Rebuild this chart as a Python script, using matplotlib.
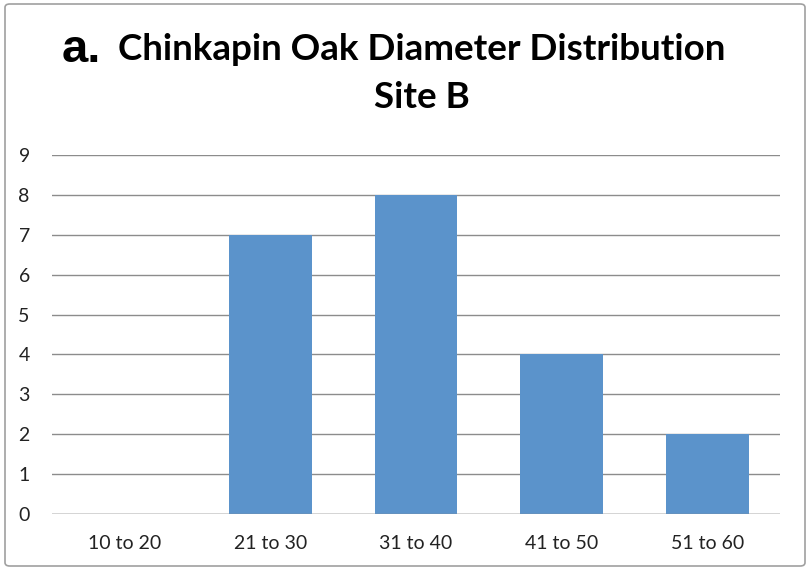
import matplotlib.pyplot as plt
from matplotlib.patches import FancyBboxPatch

categories = ["10 to 20", "21 to 30", "31 to 40", "41 to 50", "51 to 60"]
counts = [0, 7, 8, 4, 2]
yticks = list(range(0, 10))

fig = plt.figure(figsize=(8.07, 5.71), dpi=100)
W, H = 807, 571

# outer frame of the chart
fig.patches.append(FancyBboxPatch((5 / W, 5 / H), 800 / W, 562 / H,
                                  boxstyle="round,pad=0,rounding_size=0.006",
                                  transform=fig.transFigure, fill=False,
                                  edgecolor="#a0a0a0", linewidth=1.2))

ax = fig.add_axes([52 / W, (H - 514) / H, 728 / W, 359 / H])
x = range(len(categories))
ax.bar(x, counts, width=0.57, color="#5b93cb", zorder=3)
ax.set_xlim(-0.5, len(categories) - 0.5)
ax.set_ylim(0, 9)
ax.set_yticks(yticks)
ax.set_xticks(list(x))
ax.set_xticklabels(categories)
ax.grid(axis="y", color="#8c8c8c", linewidth=1.0, zorder=0)
for s in ax.spines.values():
    s.set_visible(False)
ax.axhline(0, color="#8c8c8c", linewidth=1.0, zorder=4)
ax.tick_params(length=0, labelsize=14, colors="#222222", pad=15)
ax.tick_params(axis="y", pad=16)
for lab in ax.get_xticklabels() + ax.get_yticklabels():
    lab.set_family("Lato")

fig.text(62 / W, 1 - 50 / H, "a.", fontsize=34, fontweight="bold",
         family="Liberation Sans", va="center", ha="left")
fig.text(422 / W, 1 - 49 / H, "Chinkapin Oak Diameter Distribution",
         fontsize=26.5, fontweight="bold", family="Lato", va="center", ha="center")
fig.text(422 / W, 1 - 97 / H, "Site B", fontsize=26.5, fontweight="bold",
         family="Lato", va="center", ha="center")

fig.savefig("out.png", dpi=100)
